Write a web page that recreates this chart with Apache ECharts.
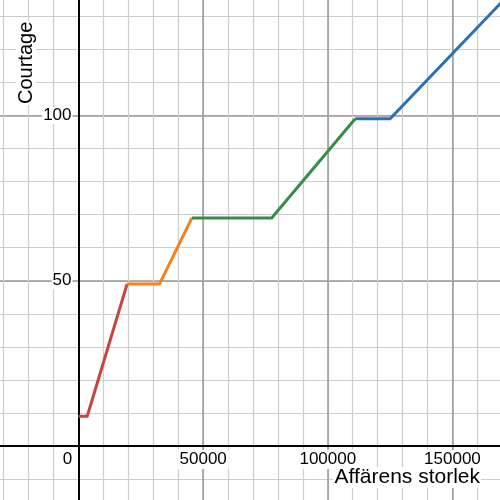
<!DOCTYPE html>
<html>
<head>
<meta charset="utf-8">
<script src="https://cdn.jsdelivr.net/npm/echarts@6/dist/echarts.min.js"></script>
<style>html,body{margin:0;padding:0;background:#fff}#c{width:500px;height:500px}</style>
</head>
<body>
<div id="c"></div>
<script>
// Data (x = Affärens storlek, y = Courtage)
const redSegment    = [[0, 9], [3500, 9], [19500, 49]];
const orangeSegment = [[19500, 49], [32500, 49], [45500, 69]];
const greenSegment  = [[45500, 69], [77500, 69], [111000, 99]];
const blueSegment   = [[111000, 99], [125000, 99], [170000, 134.5]];
const segmentNames  = ['Steg 1', 'Steg 2', 'Steg 3', 'Steg 4'];
const segmentColors = ['#c74440', '#fa7e19', '#388c46', '#2d70b3'];
const xTitle = 'Affärens storlek';
const yTitle = 'Courtage';

const FONT = 'Liberation Sans, Arial, sans-serif';
const chart = echarts.init(document.getElementById('c'), null, {renderer: 'canvas'});

const X_MIN = -50000, X_MAX = 200000, Y_MIN = -50, Y_MAX = 150;

const minorSplit = {show: true, lineStyle: {color: '#cdcdcd', width: 1.2}};
const majorSplit = {show: true, lineStyle: {color: '#999999', width: 1.5}};

chart.setOption({
  backgroundColor: '#fff',
  animation: false,
  grid: {left: -46.15, right: -77.1, top: -49.75, bottom: -111.25, containLabel: false, outerBoundsMode: 'none'},
  xAxis: [
    {type: 'value', position: 'top', min: X_MIN, max: X_MAX, interval: 10000,
     axisLine: {show: false}, axisTick: {show: false}, axisLabel: {show: false},
     splitLine: minorSplit},
    {type: 'value', position: 'bottom', offset: -165.25, min: X_MIN, max: X_MAX, interval: 50000,
     axisLine: {show: true, onZero: false, lineStyle: {color: '#000', width: 2}},
     axisTick: {show: false},
     axisLabel: {
       show: true, margin: 4, fontFamily: FONT, fontSize: 17, color: '#000',
       formatter: function (v) {
         if (v < 0) return '';
         if (v === 0) return '{z|0}';
         return '{n|' + v + '}';
       },
       rich: {
         n: {fontFamily: FONT, fontSize: 17, color: '#000', backgroundColor: '#fff', padding: [1, 2, 1, 2]},
         z: {fontFamily: FONT, fontSize: 17, color: '#000', padding: [1, 22, 1, 0]}
       }
     },
     splitLine: majorSplit}
  ],
  yAxis: [
    {type: 'value', position: 'right', min: Y_MIN, max: Y_MAX, interval: 10,
     axisLine: {show: false}, axisTick: {show: false}, axisLabel: {show: false},
     splitLine: minorSplit},
    {type: 'value', position: 'left', offset: -124.65, min: Y_MIN, max: Y_MAX, interval: 50,
     axisLine: {show: true, onZero: false, lineStyle: {color: '#000', width: 2}},
     axisTick: {show: false},
     axisLabel: {
       show: true, margin: 6, fontFamily: FONT, fontSize: 17, color: '#000',
       backgroundColor: '#fff', padding: [0, 1, 0, 1],
       formatter: function (v) { return v <= 0 ? '' : String(v); }
     },
     splitLine: majorSplit}
  ],
  series: [redSegment, orangeSegment, greenSegment, blueSegment].map(function (d, i) {
    return {
      name: segmentNames[i], type: 'line', xAxisIndex: 1, yAxisIndex: 1,
      data: d, showSymbol: false, symbol: 'none', clip: true, z: 5,
      lineStyle: {color: segmentColors[i], width: 3, join: 'miter'},
      itemStyle: {color: segmentColors[i]}
    };
  }),
  graphic: [
    {type: 'text', right: 19, top: 467, z: 10,
     style: {text: xTitle, font: '21px ' + FONT, fill: '#000', backgroundColor: '#fff', padding: [0, 1]}},
    {type: 'text', x: 16, y: 105, rotation: Math.PI / 2, z: 10,
     style: {text: yTitle, font: '20px ' + FONT, fill: '#000', backgroundColor: '#fff', padding: [0, 1]}}
  ]
});
</script>
</body>
</html>
